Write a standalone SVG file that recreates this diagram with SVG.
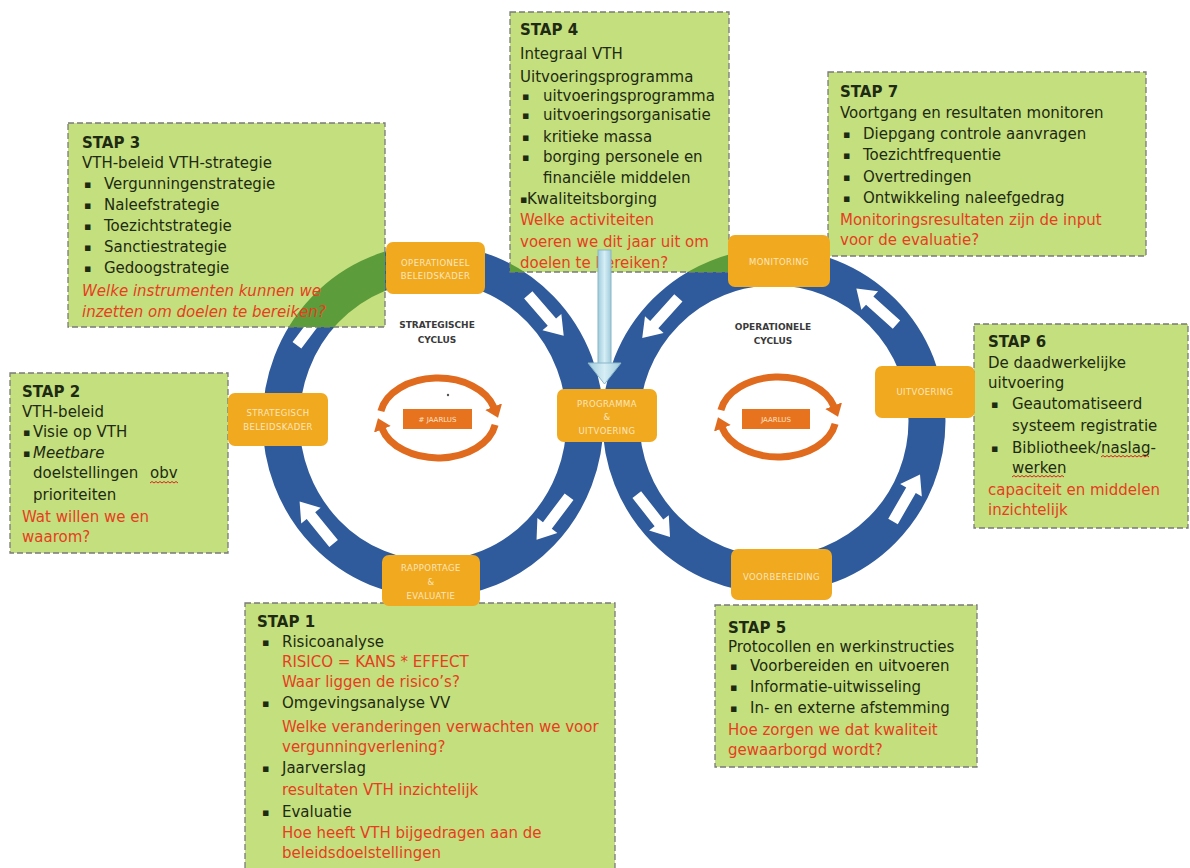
<svg xmlns="http://www.w3.org/2000/svg" width="1190" height="868" viewBox="0 0 1190 868">
<defs>
<style>
.box{fill:#c4df7d;stroke:#7a7a7a;stroke-width:1.3;stroke-dasharray:6 3}
.t{font-family:"DejaVu Sans",sans-serif;font-size:15px;fill:#1e2a12}
.b{font-family:"DejaVu Sans",sans-serif;font-size:11px;fill:#1e2a12}
.h{font-weight:bold}
.r{fill:#e63e1e}
.i{font-style:italic}
.lab{fill:#f1a91f}
.lt{font-family:"DejaVu Sans",sans-serif;font-size:8.5px;fill:#fbe6bd;text-anchor:middle;letter-spacing:0.4px}
.cyc{font-family:"DejaVu Sans",sans-serif;font-size:9px;font-weight:bold;fill:#3a3a3a;text-anchor:middle}
.ring{fill:none;stroke:#2f5b9c;stroke-width:37}
.gring{fill:none;stroke:#5c9c3a;stroke-width:37}
.warr{fill:#ffffff}
.jl{fill:none;stroke:#e06b1f;stroke-width:7}
.jr{fill:#e8731f}
.jt{font-family:"DejaVu Sans",sans-serif;font-size:7px;fill:#fde3c4;text-anchor:middle}
.wave{fill:none;stroke:#e02020;stroke-width:1}
</style>
<marker id="ah" viewBox="0 0 12 18" refX="1" refY="9" markerWidth="12" markerHeight="18" markerUnits="userSpaceOnUse" orient="auto"><path d="M0,0 L12,9 L0,18 z" fill="#e06b1f"/></marker>
<clipPath id="bc"><rect x="68" y="123" width="317" height="204"/><rect x="510" y="12" width="219" height="260"/><rect x="828" y="72" width="318" height="184"/></clipPath>
<linearGradient id="lb" x1="0" y1="0" x2="1" y2="0"><stop offset="0" stop-color="#9fcbdc"/><stop offset="0.5" stop-color="#d6eef5"/><stop offset="1" stop-color="#9fcbdc"/></linearGradient>
<path id="wa" d="M-27,-5.5 L9,-5.5 L9,-12.5 L27,0 L9,12.5 L9,5.5 L-27,5.5 z"/>
</defs>
<rect width="1190" height="868" fill="#ffffff"/>

<g id="rings">
<ellipse class="ring" cx="433" cy="421" rx="152" ry="158"/>
<ellipse class="ring" cx="774" cy="421" rx="153" ry="154"/>
<use href="#wa" class="warr" transform="translate(546,315.3) rotate(49)"/>
<use href="#wa" class="warr" transform="translate(552.8,518.3) rotate(127)"/>
<use href="#wa" class="warr" transform="translate(316.6,522.6) rotate(231)"/>
<use href="#wa" class="warr" transform="translate(313.2,323.7) rotate(-53)"/>
<use href="#wa" class="warr" transform="translate(660.3,318) rotate(132)"/>
<use href="#wa" class="warr" transform="translate(876.4,306.6) rotate(222)"/>
<use href="#wa" class="warr" transform="translate(906.5,498) rotate(-60)"/>
<use href="#wa" class="warr" transform="translate(653.4,515.8) rotate(52)"/>
</g>

<g id="boxes-bg">
<rect class="box" x="68" y="123" width="317" height="204"/>
<rect class="box" x="10" y="373" width="218" height="180"/>
<rect class="box" x="510" y="12" width="219" height="260"/>
<rect class="box" x="828" y="72" width="318" height="184"/>
<rect class="box" x="974" y="324" width="214" height="204"/>
<rect class="box" x="715" y="605" width="262" height="162"/>
<rect class="box" x="245" y="603" width="370" height="280"/>
<g clip-path="url(#bc)">
<ellipse class="gring" cx="433" cy="421" rx="152" ry="158"/>
<ellipse class="gring" cx="774" cy="421" rx="153" ry="154"/>
</g>
</g>

<g id="center-left">
<text class="cyc" x="437" y="328">STRATEGISCHE</text>
<text class="cyc" x="437" y="343">CYCLUS</text>
<path class="jl" d="M380.9,411.1 A58,40 0 0 1 494,407.6" marker-end="url(#ah)"/>
<path class="jl" d="M495.1,424.9 A58,40 0 0 1 382,428.4" marker-end="url(#ah)"/>
<rect class="jr" x="403" y="409" width="69" height="20"/>
<text class="jt" x="437.5" y="422">#  JAARLUS</text>
<circle cx="448" cy="395" r="1.2" fill="#555"/>
</g>

<g id="center-right">
<text class="cyc" x="773" y="330">OPERATIONELE</text>
<text class="cyc" x="773" y="344">CYCLUS</text>
<path class="jl" d="M720.9,410.1 A58,40 0 0 1 834,406.6" marker-end="url(#ah)"/>
<path class="jl" d="M835.1,423.9 A58,40 0 0 1 722,427.4" marker-end="url(#ah)"/>
<rect class="jr" x="742" y="409" width="68" height="20"/>
<text class="jt" x="776" y="422">JAARLUS</text>
</g>

<g id="stap3">
<text class="t h" x="82" y="148">STAP 3</text>
<text class="t" x="82" y="168">VTH-beleid VTH-strategie</text>
<text class="b" x="84" y="188">▪</text><text class="t" x="104" y="189">Vergunningenstrategie</text>
<text class="b" x="84" y="209">▪</text><text class="t" x="104" y="210">Naleefstrategie</text>
<text class="b" x="84" y="230">▪</text><text class="t" x="104" y="231">Toezichtstrategie</text>
<text class="b" x="84" y="251">▪</text><text class="t" x="104" y="252">Sanctiestrategie</text>
<text class="b" x="84" y="272">▪</text><text class="t" x="104" y="273">Gedoogstrategie</text>
<text class="t r i" x="82" y="296">Welke instrumenten kunnen we</text>
<text class="t r i" x="82" y="317">inzetten om doelen te bereiken?</text>
</g>

<g id="stap2">
<text class="t h" x="22" y="397">STAP 2</text>
<text class="t" x="22" y="417">VTH-beleid</text>
<text class="b" x="23" y="436">▪</text><text class="t" x="33" y="437">Visie op VTH</text>
<text class="b" x="23" y="457">▪</text><text class="t i" x="33" y="458">Meetbare</text>
<text class="t" x="33" y="478">doelstellingen</text><text class="t" x="150" y="478">obv</text>
<path class="wave" d="M150,483 l2,-1.5 2,1.5 2,-1.5 2,1.5 2,-1.5 2,1.5 2,-1.5 2,1.5 2,-1.5 2,1.5 2,-1.5 2,1.5 2,-1.5 2,1.5"/>
<text class="t" x="33" y="500">prioriteiten</text>
<text class="t r" x="22" y="522">Wat willen  we en</text>
<text class="t r" x="22" y="542">waarom?</text>
</g>

<g id="stap4">
<text class="t h" x="520" y="35">STAP 4</text>
<text class="t" x="520" y="59">Integraal VTH</text>
<text class="t" x="520" y="82">Uitvoeringsprogramma</text>
<text class="b" x="522" y="100">▪</text><text class="t" x="543" y="101">uitvoeringsprogramma</text>
<text class="b" x="522" y="119">▪</text><text class="t" x="543" y="120">uitvoeringsorganisatie</text>
<text class="b" x="522" y="141">▪</text><text class="t" x="543" y="142">kritieke massa</text>
<text class="b" x="522" y="161">▪</text><text class="t" x="543" y="162">borging personele en</text>
<text class="t" x="543" y="183">financiële middelen</text>
<text class="b" x="520" y="203">▪</text><text class="t" x="527" y="204">Kwaliteitsborging</text>
<text class="t r" x="520" y="225">Welke activiteiten</text>
<text class="t r" x="520" y="247">voeren we dit jaar uit om</text>
<text class="t r" x="520" y="268">doelen  te bereiken?</text>
</g>

<g id="stap7">
<text class="t h" x="840" y="97">STAP 7</text>
<text class="t" x="840" y="118">Voortgang en resultaten monitoren</text>
<text class="b" x="843" y="138">▪</text><text class="t" x="863" y="139">Diepgang controle aanvragen</text>
<text class="b" x="843" y="159">▪</text><text class="t" x="863" y="160">Toezichtfrequentie</text>
<text class="b" x="843" y="181">▪</text><text class="t" x="863" y="182">Overtredingen</text>
<text class="b" x="843" y="202">▪</text><text class="t" x="863" y="203">Ontwikkeling naleefgedrag</text>
<text class="t r" x="840" y="225">Monitoringsresultaten zijn de input</text>
<text class="t r" x="840" y="245">voor de evaluatie?</text>
</g>

<g id="stap6">
<text class="t h" x="988" y="347">STAP 6</text>
<text class="t" x="988" y="368">De daadwerkelijke</text>
<text class="t" x="988" y="388">uitvoering</text>
<text class="b" x="991" y="408">▪</text><text class="t" x="1012" y="409">Geautomatiseerd</text>
<text class="t" x="1012" y="431">systeem registratie</text>
<text class="b" x="991" y="452">▪</text><text class="t" x="1012" y="453">Bibliotheek/naslag-</text>
<path class="wave" d="M1101,457 l2,-1.5 2,1.5 2,-1.5 2,1.5 2,-1.5 2,1.5 2,-1.5 2,1.5 2,-1.5 2,1.5 2,-1.5 2,1.5 2,-1.5 2,1.5 2,-1.5 2,1.5 2,-1.5 2,1.5 2,-1.5 2,1.5 2,-1.5 2,1.5 2,-1.5 2,1.5"/>
<text class="t" x="1012" y="473">werken</text>
<path class="wave" d="M1012,477 l2,-1.5 2,1.5 2,-1.5 2,1.5 2,-1.5 2,1.5 2,-1.5 2,1.5 2,-1.5 2,1.5 2,-1.5 2,1.5 2,-1.5 2,1.5 2,-1.5 2,1.5 2,-1.5 2,1.5 2,-1.5 2,1.5 2,-1.5 2,1.5 2,-1.5 2,1.5 2,-1.5 2,1.5"/>
<text class="t r" x="988" y="495">capaciteit en middelen</text>
<text class="t r" x="988" y="515">inzichtelijk</text>
</g>

<g id="stap5">
<text class="t h" x="728" y="633">STAP 5</text>
<text class="t" x="728" y="652">Protocollen en werkinstructies</text>
<text class="b" x="730" y="670">▪</text><text class="t" x="750" y="671">Voorbereiden en uitvoeren</text>
<text class="b" x="730" y="691">▪</text><text class="t" x="750" y="692">Informatie-uitwisseling</text>
<text class="b" x="730" y="712">▪</text><text class="t" x="750" y="713">In- en externe afstemming</text>
<text class="t r" x="728" y="735">Hoe zorgen we dat kwaliteit</text>
<text class="t r" x="728" y="755">gewaarborgd wordt?</text>
</g>

<g id="stap1">
<text class="t h" x="257" y="627">STAP 1</text>
<text class="b" x="262" y="646">▪</text><text class="t" x="282" y="647">Risicoanalyse</text>
<text class="t r" x="282" y="667">RISICO = KANS * EFFECT</text>
<text class="t r" x="282" y="687">Waar liggen de risico’s?</text>
<text class="b" x="262" y="707">▪</text><text class="t" x="282" y="708">Omgevingsanalyse  VV</text>
<text class="t r" x="282" y="732">Welke veranderingen verwachten we voor</text>
<text class="t r" x="282" y="752">vergunningverlening?</text>
<text class="b" x="262" y="772">▪</text><text class="t" x="282" y="773">Jaarverslag</text>
<text class="t r" x="282" y="795">resultaten  VTH inzichtelijk</text>
<text class="b" x="262" y="816">▪</text><text class="t" x="282" y="817">Evaluatie</text>
<text class="t r" x="282" y="838">Hoe heeft  VTH bijgedragen aan de</text>
<text class="t r" x="282" y="858">beleidsdoelstellingen</text>
</g>

<g id="connector-input">
<rect x="598" y="250" width="13" height="114" fill="url(#lb)" stroke="#8ab6c8" stroke-width="1"/>
<polygon points="588,363 621,363 604.5,384" fill="url(#lb)" stroke="#8ab6c8" stroke-width="1"/>
</g>

<g id="labels">
<g id="lab-operationeel"><rect class="lab" x="386" y="242" width="99" height="52" rx="7"/><text class="lt" x="435.5" y="266">OPERATIONEEL</text><text class="lt" x="435.5" y="279">BELEIDSKADER</text></g>
<g id="lab-strategisch"><rect class="lab" x="228" y="393" width="100" height="53" rx="7"/><text class="lt" x="278" y="416">STRATEGISCH</text><text class="lt" x="278" y="430">BELEIDSKADER</text></g>
<g id="lab-programma"><rect class="lab" x="557" y="389" width="100" height="53" rx="7"/><text class="lt" x="607" y="407">PROGRAMMA</text><text class="lt" x="607" y="420">&amp;</text><text class="lt" x="607" y="434">UITVOERING</text></g>
<g id="lab-monitoring"><rect class="lab" x="728" y="235" width="102" height="52" rx="7"/><text class="lt" x="779" y="265">MONITORING</text></g>
<g id="lab-uitvoering"><rect class="lab" x="875" y="366" width="100" height="52" rx="7"/><text class="lt" x="925" y="395">UITVOERING</text></g>
<g id="lab-voorbereiding"><rect class="lab" x="731" y="549" width="101" height="51" rx="7"/><text class="lt" x="781.5" y="580">VOORBEREIDING</text></g>
<g id="lab-rapportage"><rect class="lab" x="382" y="555" width="98" height="51" rx="7"/><text class="lt" x="431" y="571">RAPPORTAGE</text><text class="lt" x="431" y="585">&amp;</text><text class="lt" x="431" y="599">EVALUATIE</text></g>
</g>
</svg>
